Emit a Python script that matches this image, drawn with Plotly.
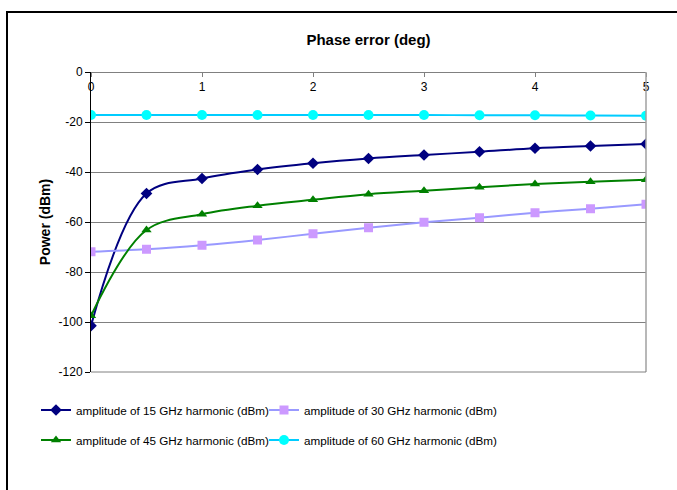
import plotly.graph_objects as go

phase_error = [0, 0.5, 1, 1.5, 2, 2.5, 3, 3.5, 4, 4.5, 5]
amp_15ghz = [-101.5, -48.6, -42.6, -39.0, -36.5, -34.6, -33.2, -31.9, -30.5, -29.6, -28.8]
amp_30ghz = [-71.9, -70.9, -69.3, -67.2, -64.7, -62.3, -60.1, -58.3, -56.3, -54.7, -52.9]
amp_45ghz = [-97.5, -63.2, -56.9, -53.5, -51.1, -48.9, -47.5, -46.1, -44.8, -43.9, -43.1]
amp_60ghz = [-17.2, -17.2, -17.2, -17.2, -17.2, -17.2, -17.2, -17.3, -17.3, -17.4, -17.5]

x_ticks = [0, 1, 2, 3, 4, 5]
y_ticks = [0, -20, -40, -60, -80, -100, -120]
y_ticktext = ["0", "-20", "-40", "-60", "-80", "-100", "-120"]

names = [
    "amplitude of 15 GHz harmonic (dBm)",
    "amplitude of 30 GHz harmonic (dBm)",
    "amplitude of 45 GHz harmonic (dBm)",
    "amplitude of 60 GHz harmonic (dBm)",
]

fig = go.Figure()
series = [
    (amp_15ghz, names[0], "#000080", "#000080", "diamond", 9, "legend"),
    (amp_30ghz, names[1], "#9999FF", "#CC99FF", "square", 9, "legend2"),
    (amp_45ghz, names[2], "#008000", "#008000", "triangle-up", 9, "legend3"),
    (amp_60ghz, names[3], "#00CCFF", "#00FFFF", "circle", 10, "legend4"),
]
for ys, nm, lc, mc, sym, sz, lg in series:
    fig.add_trace(go.Scatter(
        x=phase_error, y=ys, name=nm, mode="lines+markers", legend=lg,
        line=dict(color=lc, width=2, shape="spline", smoothing=1),
        marker=dict(symbol=sym, size=sz, color=mc, line=dict(width=0)),
    ))

L, R, T, B = 91, 31, 72, 118
W, H = 677, 490
pw, ph = W - L - R, H - T - B


def py(p):
    return (ph - (p - T)) / ph


def px(p):
    return (p - L) / pw


def leg(xp, yp):
    return dict(x=px(xp), xanchor="left", y=py(yp), yanchor="middle",
                font=dict(size=11.7), itemwidth=30, bgcolor="rgba(0,0,0,0)", borderwidth=0)


fig.update_layout(
    width=W, height=H,
    margin=dict(l=L, r=R, t=T, b=B, autoexpand=False),
    paper_bgcolor="white", plot_bgcolor="white",
    font=dict(family="Liberation Sans, Arial, sans-serif", size=12, color="black"),
    title=dict(text="<b>Phase error (deg)</b>", x=(L + pw / 2) / W, xanchor="center",
               y=1 - 40 / H, yanchor="middle", yref="container", font=dict(size=15)),
    showlegend=True,
    legend=leg(36, 410),
    legend2=leg(264, 410),
    legend3=leg(36, 440),
    legend4=leg(264, 440),
    xaxis=dict(range=[0, 5], side="bottom", anchor="free", position=1,
               tickvals=x_ticks, ticks="outside", ticklen=4, tickcolor="#808080",
               showgrid=False, showline=True, linecolor="#808080", linewidth=1,
               zeroline=False, tickfont=dict(size=12), automargin=False),
    yaxis=dict(range=[-120, 0], tickvals=y_ticks, ticktext=y_ticktext,
               ticks="outside", ticklen=5, tickcolor="#000",
               showgrid=True, gridcolor="#808080", gridwidth=1,
               showline=True, linecolor="#000", linewidth=1, zeroline=False,
               title=dict(text="<b>Power (dBm)</b>", font=dict(size=14), standoff=4),
               tickfont=dict(size=12), automargin=False),
)

# right and bottom border of plot area
fig.add_shape(type="line", xref="paper", yref="paper", x0=1, x1=1, y0=0, y1=1,
              line=dict(color="#A0A0A0", width=1.5))
fig.add_shape(type="line", xref="paper", yref="paper", x0=0, x1=1, y0=0, y1=0,
              line=dict(color="#808080", width=1))

# outer chart border
fig.add_shape(type="rect", xref="paper", yref="paper",
              x0=px(7), x1=px(W + 20),
              y0=py(H + 20), y1=py(12),
              line=dict(color="black", width=2), layer="below")

fig.write_html("out.html", config={"displayModeBar": False},
               post_script="document.body.style.margin='0px';")
